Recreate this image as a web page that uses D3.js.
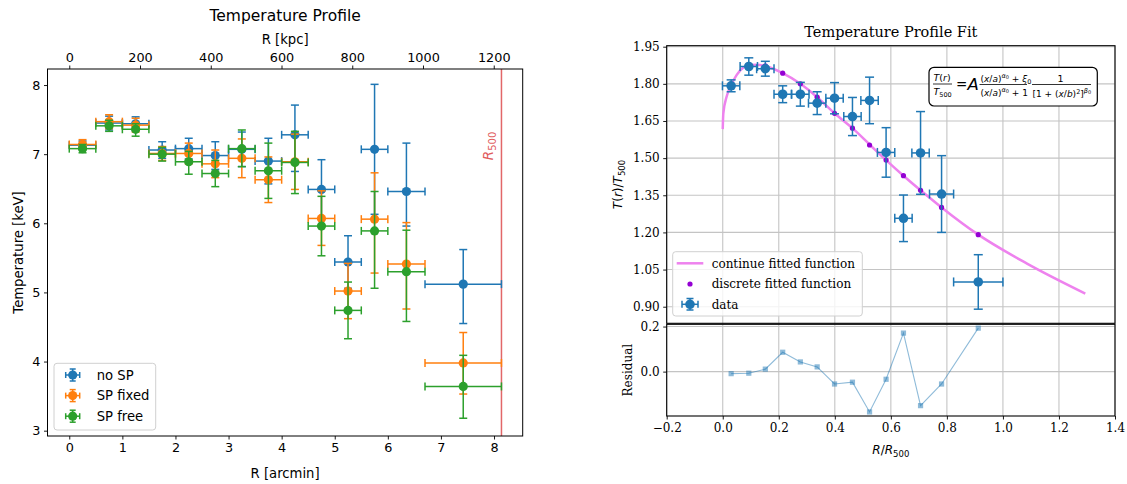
<!DOCTYPE html>
<html><head><meta charset="utf-8">
<script src="https://cdn.jsdelivr.net/npm/d3@7"></script>
<style>
html,body{margin:0;padding:0;background:#fff;}
svg{display:block;}
</style></head>
<body>
<svg id="c" width="1127" height="484"></svg>
<script>
// ---------- Left panel data ----------
const R_arcmin = [0.25,0.75,1.25,1.75,2.25,2.75,3.25,3.75,4.25,4.75,5.25,5.75,6.35,7.42];
const R_xerr   = [0.25,0.25,0.25,0.25,0.25,0.25,0.25,0.25,0.25,0.25,0.25,0.25,0.35,0.72];
const noSP_T   = [7.13,7.45,7.44,7.06,7.08,6.98,7.07,6.90,7.28,6.49,5.44,7.07,6.46,5.12];
const noSP_lo  = [0.06,0.10,0.10,0.12,0.15,0.20,0.25,0.33,0.53,0.43,0.38,0.94,0.50,0.57];
const noSP_hi  = [0.06,0.10,0.10,0.12,0.15,0.20,0.25,0.33,0.43,0.43,0.38,0.94,0.70,0.50];
const fixed_T  = [7.14,7.47,7.42,7.01,7.01,6.86,6.94,6.63,6.89,6.07,5.02,6.06,5.41,3.98];
const fixed_lo = [0.07,0.10,0.10,0.10,0.15,0.20,0.28,0.33,0.40,0.39,0.40,0.78,0.65,0.45];
const fixed_hi = [0.07,0.10,0.10,0.10,0.15,0.20,0.28,0.33,0.40,0.40,0.40,0.67,0.60,0.44];
const free_T   = [7.08,7.41,7.36,7.00,6.89,6.72,7.08,6.76,6.88,5.96,4.74,5.89,5.30,3.64];
const free_lo  = [0.06,0.08,0.10,0.10,0.18,0.19,0.26,0.40,0.45,0.43,0.41,0.83,0.72,0.46];
const free_hi  = [0.06,0.08,0.08,0.10,0.15,0.19,0.27,0.40,0.45,0.43,0.41,0.57,0.60,0.45];
const seriesNames = ["no SP","SP fixed","SP free"];
const seriesColors = ["#1f77b4","#ff7f0e","#2ca02c"];
const R500_arcmin = 8.14;
const kpcPerArcmin = 150.1;
const arcminTicks = [0,1,2,3,4,5,6,7,8];
const kpcTicks = [0,200,400,600,800,1000,1200];
const tempTicks = [3,4,5,6,7,8];

// ---------- Right panel data ----------
const fitX    = [0.030,0.093,0.152,0.214,0.277,0.337,0.399,0.463,0.524,0.583,0.645,0.706,0.781,0.912];
const fitXerr = [0.031,0.031,0.031,0.031,0.031,0.031,0.031,0.031,0.031,0.031,0.031,0.031,0.043,0.088];
const fitY    = [1.792,1.870,1.861,1.758,1.758,1.722,1.742,1.668,1.733,1.523,1.257,1.521,1.355,1.000];
const fitYerr = [0.024,0.035,0.030,0.034,0.048,0.046,0.063,0.077,0.094,0.100,0.094,0.167,0.155,0.110];
const discY   = [1.795,1.870,1.873,1.843,1.800,1.746,1.681,1.621,1.553,1.492,1.429,1.370,1.301,1.191];
const curveX  = [0.000,0.002,0.014,0.030,0.050,0.074,0.100,0.121,0.152,0.214,0.277,0.337,0.399,0.463,0.526,0.583,0.645,0.706,0.781,0.912,1.086,1.294];
const curveY  = [1.617,1.680,1.749,1.795,1.836,1.866,1.876,1.877,1.872,1.843,1.800,1.746,1.681,1.621,1.553,1.492,1.429,1.370,1.301,1.191,1.074,0.953];
const residY  = [-0.009,-0.007,0.011,0.086,0.043,0.021,-0.055,-0.047,-0.179,-0.034,0.171,-0.151,-0.055,0.193];
const ratioTicks = [0.90,1.05,1.20,1.35,1.50,1.65,1.80,1.95];
const rTicks = [-0.2,0.0,0.2,0.4,0.6,0.8,1.0,1.2,1.4];
const residTicks = [0.0,0.2];

const svg = d3.select("#c");
const SANS = "DejaVu Sans, sans-serif";
const SERIF = "DejaVu Serif, serif";

// ================= LEFT PANEL =================
const L = {l:47.5, r:522.7, t:69, b:436};
const xL = d3.scaleLinear().domain([-0.41, 8.54]).range([L.l, L.r]);
const xK = d3.scaleLinear().domain([-0.41*kpcPerArcmin, 8.54*kpcPerArcmin]).range([L.l, L.r]);
const yL = d3.scaleLinear().domain([2.923, 8.232]).range([L.b, L.t]);
const gl = svg.append("g");

const axB = gl.append("g").attr("transform",`translate(0,${L.b})`)
  .call(d3.axisBottom(xL).tickValues(arcminTicks).tickFormat(d3.format("d")).tickSize(3.5).tickPadding(3.5));
const axT = gl.append("g").attr("transform",`translate(0,${L.t})`)
  .call(d3.axisTop(xK).tickValues(kpcTicks).tickFormat(d3.format("d")).tickSize(3.5).tickPadding(3.5));
const axLft = gl.append("g").attr("transform",`translate(${L.l},0)`)
  .call(d3.axisLeft(yL).tickValues(tempTicks).tickFormat(d3.format("d")).tickSize(3.5).tickPadding(3.5));
[axB,axT,axLft].forEach(a=>{
  a.select(".domain").remove();
  a.selectAll("text").attr("font-family",SANS).attr("font-size",12.8).attr("fill","#000");
  a.selectAll("line").attr("stroke","#000").attr("stroke-width",0.9);
});

const xr = xL(R500_arcmin);
gl.append("line").attr("x1",xr).attr("x2",xr).attr("y1",L.t).attr("y2",L.b)
  .attr("stroke","#d62728").attr("stroke-opacity",0.7).attr("stroke-width",1.5);
const r5 = gl.append("text").attr("transform",`translate(${xr-8.5},146) rotate(-90)`)
  .attr("text-anchor","middle").attr("fill","#d62728").attr("fill-opacity",0.75)
  .attr("font-family",SANS).attr("font-size",13.5);
r5.append("tspan").attr("font-style","italic").text("R");
r5.append("tspan").attr("dy",3).attr("font-size",10).text("500");

function drawErr(g, cx, cy, x0, x1, y0, y1, color, cap, r, lw){
  g.append("line").attr("x1",cx).attr("x2",cx).attr("y1",y0).attr("y2",y1).attr("stroke",color).attr("stroke-width",lw);
  g.append("line").attr("x1",x0).attr("x2",x1).attr("y1",cy).attr("y2",cy).attr("stroke",color).attr("stroke-width",lw);
  [[cx-cap,cx+cap,y0,y0],[cx-cap,cx+cap,y1,y1],[x0,x0,cy-cap,cy+cap],[x1,x1,cy-cap,cy+cap]].forEach(c=>{
    g.append("line").attr("x1",c[0]).attr("x2",c[1]).attr("y1",c[2]).attr("y2",c[3]).attr("stroke",color).attr("stroke-width",lw);
  });
  g.append("circle").attr("cx",cx).attr("cy",cy).attr("r",r).attr("fill",color);
}
const leftSeries = [[noSP_T,noSP_lo,noSP_hi],[fixed_T,fixed_lo,fixed_hi],[free_T,free_lo,free_hi]];
leftSeries.forEach((s,si)=>{
  const g = gl.append("g");
  R_arcmin.forEach((r,i)=>{
    drawErr(g, xL(r), yL(s[0][i]), xL(r-R_xerr[i]), xL(r+R_xerr[i]),
      yL(s[0][i]+s[2][i]), yL(s[0][i]-s[1][i]), seriesColors[si], 4, 4.6, 1.5);
  });
});

gl.append("rect").attr("x",L.l).attr("y",L.t).attr("width",L.r-L.l).attr("height",L.b-L.t)
  .attr("fill","none").attr("stroke","#000").attr("stroke-width",1);

gl.append("text").attr("x",(L.l+L.r)/2).attr("y",21).attr("text-anchor","middle")
  .attr("font-family",SANS).attr("font-size",15.5).text("Temperature Profile");
gl.append("text").attr("x",(L.l+L.r)/2).attr("y",43.5).attr("text-anchor","middle")
  .attr("font-family",SANS).attr("font-size",13.2).text("R [kpc]");
gl.append("text").attr("x",(L.l+L.r)/2).attr("y",478).attr("text-anchor","middle")
  .attr("font-family",SANS).attr("font-size",13.2).text("R [arcmin]");
gl.append("text").attr("transform",`translate(22.5,${(L.t+L.b)/2}) rotate(-90)`).attr("text-anchor","middle")
  .attr("font-family",SANS).attr("font-size",13.2).text("Temperature [keV]");

const lg = gl.append("g");
lg.append("rect").attr("x",54).attr("y",363.3).attr("width",101.7).attr("height",66.7).attr("rx",3)
  .attr("fill","#fff").attr("fill-opacity",0.8).attr("stroke","#d0d0d0").attr("stroke-width",1);
seriesNames.forEach((n,i)=>{
  const cy = 375 + i*20.6, cx = 72.7;
  drawErr(lg, cx, cy, cx-7, cx+7, cy-6, cy+6, seriesColors[i], 3, 4.6, 1.5);
  lg.append("text").attr("x",96.7).attr("y",cy+4.6).attr("font-family",SANS).attr("font-size",13.2).text(n);
});

// ================= RIGHT PANEL =================
const P = {l:666.7, r:1115, t:45.7, b:323.3};
const Q = {t:324.3, b:416};
const xR = d3.scaleLinear().domain([-0.2,1.4]).range([P.l,P.r]);
const yR = d3.scaleLinear().domain([0.833,1.954]).range([P.b,P.t]);
const yQ = d3.scaleLinear().domain([-0.197,0.21]).range([Q.b,Q.t]);
const gr = svg.append("g");
const GRID = "#c4c4c4";

rTicks.forEach(t=>{
  gr.append("line").attr("x1",xR(t)).attr("x2",xR(t)).attr("y1",P.t).attr("y2",P.b).attr("stroke",GRID).attr("stroke-width",1.1);
  gr.append("line").attr("x1",xR(t)).attr("x2",xR(t)).attr("y1",Q.t).attr("y2",Q.b).attr("stroke",GRID).attr("stroke-width",1.1);
});
ratioTicks.forEach(t=>{
  gr.append("line").attr("x1",P.l).attr("x2",P.r).attr("y1",yR(t)).attr("y2",yR(t)).attr("stroke",GRID).attr("stroke-width",1.1);
});
residTicks.forEach(t=>{
  gr.append("line").attr("x1",P.l).attr("x2",P.r).attr("y1",yQ(t)).attr("y2",yQ(t)).attr("stroke",GRID).attr("stroke-width",1.1);
});

const curvePts = curveX.map((x,i)=>[x,curveY[i]]);
gr.append("path").attr("d", d3.line().x(d=>xR(d[0])).y(d=>yR(d[1])).curve(d3.curveMonotoneX)(curvePts))
  .attr("fill","none").attr("stroke","#ee82ee").attr("stroke-width",2.5);
fitX.forEach((x,i)=>{
  gr.append("circle").attr("cx",xR(x)).attr("cy",yR(discY[i])).attr("r",2.6).attr("fill","#9400d3");
});
const gd = gr.append("g");
fitX.forEach((x,i)=>{
  drawErr(gd, xR(x), yR(fitY[i]), xR(x-fitXerr[i]), xR(x+fitXerr[i]),
    yR(fitY[i]+fitYerr[i]), yR(fitY[i]-fitYerr[i]), "#1f77b4", 4.5, 4.8, 1.5);
});

const resPts = fitX.map((x,i)=>[x,residY[i]]);
gr.append("path").attr("d", d3.line().x(d=>xR(d[0])).y(d=>yQ(d[1]))(resPts))
  .attr("fill","none").attr("stroke","#1f77b4").attr("stroke-opacity",0.5).attr("stroke-width",1.1);
resPts.forEach(d=>{
  gr.append("rect").attr("x",xR(d[0])-2.6).attr("y",yQ(d[1])-2.6).attr("width",5.2).attr("height",5.2)
    .attr("fill","#1f77b4").attr("fill-opacity",0.5);
});

const aRy = gr.append("g").attr("transform",`translate(${P.l},0)`)
  .call(d3.axisLeft(yR).tickValues(ratioTicks).tickFormat(d3.format(".2f")).tickSize(3.5).tickPadding(3.5));
const aQy = gr.append("g").attr("transform",`translate(${P.l},0)`)
  .call(d3.axisLeft(yQ).tickValues(residTicks).tickFormat(d3.format(".1f")).tickSize(3.5).tickPadding(3.5));
const aQx = gr.append("g").attr("transform",`translate(0,${Q.b})`)
  .call(d3.axisBottom(xR).tickValues(rTicks).tickFormat(d3.format(".1f")).tickSize(3.5).tickPadding(3.5));
[aRy,aQy,aQx].forEach(a=>{
  a.select(".domain").remove();
  a.selectAll("text").attr("font-family",SERIF).attr("font-size",12).attr("fill","#000");
  a.selectAll("line").attr("stroke","#000").attr("stroke-width",0.9);
});

gr.append("rect").attr("x",P.l).attr("y",P.t).attr("width",P.r-P.l).attr("height",P.b-P.t)
  .attr("fill","none").attr("stroke","#000").attr("stroke-width",1.1);
gr.append("rect").attr("x",P.l).attr("y",Q.t).attr("width",P.r-P.l).attr("height",Q.b-Q.t)
  .attr("fill","none").attr("stroke","#000").attr("stroke-width",1.1);

gr.append("text").attr("x",(P.l+P.r)/2).attr("y",36.7).attr("text-anchor","middle")
  .attr("font-family",SERIF).attr("font-size",14.5).text("Temperature Profile Fit");
const yl = gr.append("text").attr("transform",`translate(622,${(P.t+P.b)/2}) rotate(-90)`).attr("text-anchor","middle")
  .attr("font-family",SANS).attr("font-size",12);
yl.append("tspan").attr("font-style","italic").text("T");
yl.append("tspan").text("(");
yl.append("tspan").attr("font-style","italic").text("r");
yl.append("tspan").text(")/");
yl.append("tspan").attr("font-style","italic").text("T");
yl.append("tspan").attr("dy",2.5).attr("font-size",8.5).text("500");
gr.append("text").attr("transform",`translate(632,${(Q.t+Q.b)/2}) rotate(-90)`).attr("text-anchor","middle")
  .attr("font-family",SERIF).attr("font-size",12).text("Residual");
const xl = gr.append("text").attr("x",(P.l+P.r)/2).attr("y",454).attr("text-anchor","middle")
  .attr("font-family",SANS).attr("font-size",12);
xl.append("tspan").attr("font-style","italic").text("R");
xl.append("tspan").text("/");
xl.append("tspan").attr("font-style","italic").text("R");
xl.append("tspan").attr("dy",2.5).attr("font-size",8.5).text("500");

const rl = gr.append("g");
rl.append("rect").attr("x",672.7).attr("y",251.7).attr("width",189.6).attr("height",64.3).attr("rx",3)
  .attr("fill","#fff").attr("fill-opacity",0.8).attr("stroke","#d0d0d0").attr("stroke-width",1);
rl.append("line").attr("x1",676.7).attr("x2",703.3).attr("y1",263.3).attr("y2",263.3).attr("stroke","#ee82ee").attr("stroke-width",2.5);
rl.append("circle").attr("cx",690).attr("cy",284).attr("r",2.6).attr("fill","#9400d3");
drawErr(rl, 690, 304.3, 682, 698, 298.5, 310, "#1f77b4", 3.5, 4.8, 1.5);
[["continue fitted function",263.3],["discrete fitted function",284],["data",304.3]].forEach(d=>{
  rl.append("text").attr("x",711.7).attr("y",d[1]+4.3).attr("font-family",SERIF).attr("font-size",12).text(d[0]);
});

// formula box
const fb = gr.append("g");
fb.append("rect").attr("x",929).attr("y",67.3).attr("width",168.3).attr("height",38.7).attr("rx",5)
  .attr("fill","#fff").attr("stroke","#000").attr("stroke-width",1.2);
function mt(x,y,size){ return fb.append("text").attr("x",x).attr("y",y).attr("font-family",SANS).attr("font-size",size); }
function fl(x1,x2,y){ fb.append("line").attr("x1",x1).attr("x2",x2).attr("y1",y).attr("y2",y).attr("stroke","#000").attr("stroke-width",0.8); }
let t;
t = mt(933.5,80.5,9.5); t.append("tspan").attr("font-style","italic").text("T"); t.append("tspan").text("(");
t.append("tspan").attr("font-style","italic").text("r"); t.append("tspan").text(")");
fl(933,952,84);
t = mt(933.5,95,9.5); t.append("tspan").attr("font-style","italic").text("T"); t.append("tspan").attr("dy",2).attr("font-size",6.5).text("500");
t = mt(956,88.5,13.5); t.text("=");
t = mt(967.5,90,16.5); t.attr("font-style","italic").text("A");
t = mt(980.5,81.5,9);
t.append("tspan").text("("); t.append("tspan").attr("font-style","italic").text("x");
t.append("tspan").text("/"); t.append("tspan").attr("font-style","italic").text("a");
t.append("tspan").text(")");
t.append("tspan").attr("dy",-3.5).attr("font-size",6.5).attr("font-style","italic").text("α");
t.append("tspan").attr("dy",1).attr("font-size",5).text("0");
t.append("tspan").attr("dy",2.5).text(" + ");
t.append("tspan").attr("font-style","italic").text("ξ");
t.append("tspan").attr("dy",2).attr("font-size",6.5).text("0");
fl(979.5,1027,84.5);
t = mt(980.5,95.5,9);
t.append("tspan").text("("); t.append("tspan").attr("font-style","italic").text("x");
t.append("tspan").text("/"); t.append("tspan").attr("font-style","italic").text("a");
t.append("tspan").text(")");
t.append("tspan").attr("dy",-3.5).attr("font-size",6.5).attr("font-style","italic").text("α");
t.append("tspan").attr("dy",1).attr("font-size",5).text("0");
t.append("tspan").attr("dy",2.5).text(" + 1");
t = mt(1057.5,81.5,9.5); t.text("1");
fl(1032,1091,84.5);
t = mt(1032.5,97,9);
t.append("tspan").text("[1 + (");
t.append("tspan").attr("font-style","italic").text("x");
t.append("tspan").text("/");
t.append("tspan").attr("font-style","italic").text("b");
t.append("tspan").text(")");
t.append("tspan").attr("dy",-3.5).attr("font-size",6.5).text("2");
t.append("tspan").attr("dy",3.5).text("]");
t.append("tspan").attr("dy",-4).attr("font-size",6.5).attr("font-style","italic").text("β");
t.append("tspan").attr("dy",1).attr("font-size",5).text("0");
</script>
</body></html>
